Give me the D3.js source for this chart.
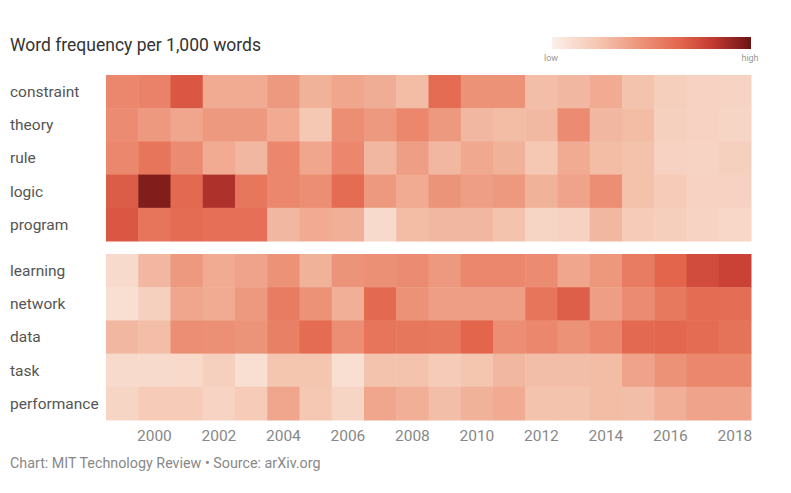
<!DOCTYPE html>
<html>
<head>
<meta charset="utf-8">
<script src="https://cdn.jsdelivr.net/npm/d3@7"></script>
<style>
  body { margin: 0; background: #fff; font-family: Roboto, "Noto Sans", sans-serif; }
  svg { display: block; }
</style>
</head>
<body>
<svg width="791" height="493"></svg>
<script>
// years on the x axis
var years = d3.range(1999, 2019);
var tickYears = [2000, 2002, 2004, 2006, 2008, 2010, 2012, 2014, 2016, 2018];

// rows, grouped
var oldWords = ['constraint', 'theory', 'rule', 'logic', 'program'];
var newWords = ['learning', 'network', 'data', 'task', 'performance'];

// relative frequency (0 = low, 100 = high), 1999..2018
var constraint  = [50, 52, 70, 35, 35, 42, 32, 37, 34, 28, 62, 45, 45, 27, 30, 35, 25, 19, 17, 16];
var theory      = [48, 42, 37, 42, 42, 35, 22, 47, 42, 50, 42, 30, 28, 29, 48, 30, 28, 18, 17, 15];
var rule        = [50, 58, 48, 35, 30, 50, 37, 50, 30, 40, 30, 36, 32, 22, 35, 28, 26, 17, 16, 18];
var logic       = [68, 95, 63, 85, 57, 50, 47, 62, 42, 35, 44, 40, 42, 32, 38, 47, 26, 20, 17, 17];
var program     = [70, 58, 62, 60, 60, 30, 35, 33, 12, 28, 30, 30, 25, 15, 17, 30, 20, 19, 16, 14];
var learning    = [12, 30, 42, 35, 38, 45, 32, 44, 46, 48, 42, 50, 50, 48, 37, 43, 55, 65, 74, 78];
var network     = [10, 18, 37, 35, 42, 55, 45, 33, 63, 45, 40, 40, 40, 58, 67, 40, 48, 56, 62, 61];
var data        = [30, 27, 47, 46, 44, 53, 62, 47, 58, 57, 56, 65, 47, 50, 45, 50, 63, 64, 62, 59];
var task        = [12, 12, 13, 18, 10, 24, 24, 10, 25, 25, 20, 24, 30, 27, 27, 28, 38, 45, 50, 50];
var performance = [15, 20, 20, 16, 20, 37, 22, 15, 37, 33, 27, 32, 35, 25, 25, 28, 27, 33, 38, 38];

var series = {constraint, theory, rule, logic, program, learning, network, data, task, performance};

var colorStops = [0, 25, 45, 65, 80, 100];
var colorRange = ['#fcf0ea', '#f4c3ad', '#ec9277', '#e2654c', '#c63b32', '#6a1414'];

var svg = d3.select('svg');
var left = 106, right = 751;

var color = d3.scaleLinear().domain(colorStops).range(colorRange);

var x = d3.scaleBand().domain(years).range([left, right]);
var yTop = d3.scaleBand().domain(oldWords).range([75, 241]);
var yBottom = d3.scaleBand().domain(newWords).range([254, 420]);

// title
svg.append('text')
  .attr('x', 10).attr('y', 51)
  .attr('font-size', 17.5)
  .attr('fill', '#333')
  .text('Word frequency per 1,000 words');

// legend
var defs = svg.append('defs');
var grad = defs.append('linearGradient').attr('id', 'legend-grad');
colorStops.forEach((s, i) => {
  grad.append('stop').attr('offset', s + '%').attr('stop-color', colorRange[i]);
});
svg.append('rect')
  .attr('x', 552).attr('y', 37)
  .attr('width', 199).attr('height', 12)
  .attr('fill', 'url(#legend-grad)');
svg.append('text')
  .attr('x', 551).attr('y', 61)
  .attr('text-anchor', 'middle')
  .attr('font-size', 9).attr('fill', '#999')
  .text('low');
svg.append('text')
  .attr('x', 750).attr('y', 61)
  .attr('text-anchor', 'middle')
  .attr('font-size', 9).attr('fill', '#999')
  .text('high');

// draw one block of rows
function drawGroup(words, y) {
  var g = svg.append('g');
  words.forEach(w => {
    g.selectAll('rect.c-' + w)
      .data(years.map((yr, i) => ({year: yr, value: series[w][i]})))
      .enter().append('rect')
        .attr('class', 'c-' + w)
        .attr('x', d => x(d.year))
        .attr('y', y(w))
        .attr('width', x.bandwidth() + 0.5)
        .attr('height', y.bandwidth() + 0.5)
        .attr('fill', d => color(d.value));
  });
  g.selectAll('text.label')
    .data(words).enter()
      .append('text')
      .attr('class', 'label')
      .attr('x', 10)
      .attr('y', d => y(d) + y.bandwidth() / 2)
      .attr('dy', '0.35em')
      .attr('font-size', 15.5)
      .attr('fill', '#555')
      .text(d => d);
}
drawGroup(oldWords, yTop);
drawGroup(newWords, yBottom);

// x axis
var axis = svg.append('g')
  .attr('transform', 'translate(0,' + 422 + ')')
  .call(d3.axisBottom(x).tickValues(tickYears).tickSize(0).tickPadding(8));
axis.select('.domain').remove();
axis.selectAll('text')
  .attr('font-family', 'Roboto, sans-serif')
  .attr('font-size', 15.5)
  .attr('fill', '#888');

// footer
svg.append('text')
  .attr('x', 10).attr('y', 468)
  .attr('font-size', 14.3)
  .attr('fill', '#888')
  .text('Chart: MIT Technology Review \u2022 Source: arXiv.org');
</script>
</body>
</html>
